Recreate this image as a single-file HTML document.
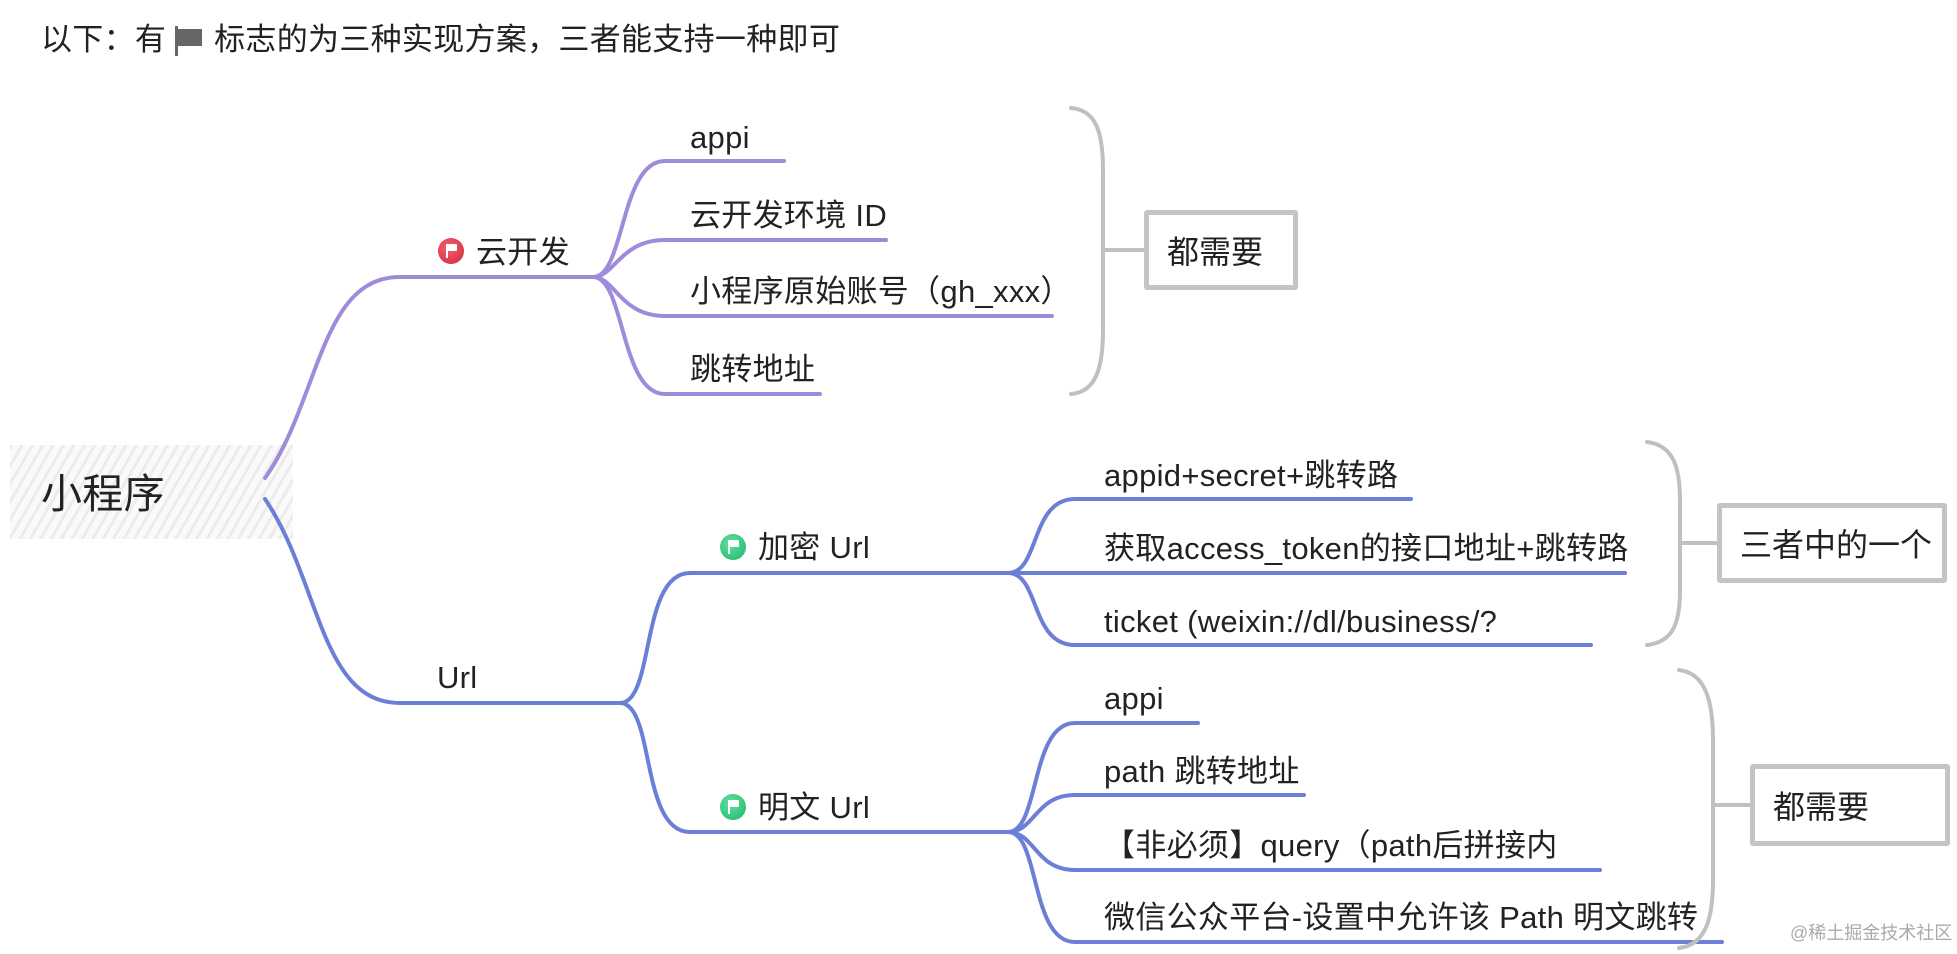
<!DOCTYPE html>
<html><head><meta charset="utf-8"><style>
html,body{margin:0;padding:0;background:#fff;}
body{width:1957px;height:954px;position:relative;overflow:hidden;font-family:"Liberation Sans","Noto Sans CJK SC",sans-serif;color:#222;}
.t{position:absolute;white-space:nowrap;font-size:31px;line-height:32px;letter-spacing:0.3px;}
.hatch{position:absolute;left:10px;top:445px;width:283px;height:94px;background:repeating-linear-gradient(120deg,#ececec 0 3px,#fafafa 3px 9px);}
.box{position:absolute;border:5px solid #c4c4c4;border-radius:3px;background:#fff;box-sizing:border-box;font-size:32px;display:flex;align-items:center;padding-left:18px;white-space:nowrap;}
.icon{position:absolute;width:26px;height:26px;border-radius:50%;}
.icon i{position:absolute;left:8px;top:6px;width:2px;height:14px;background:#fff;}
.icon b{position:absolute;left:10px;top:6px;width:9px;height:7px;background:#fff;border-radius:1px;}
</style></head><body>
<div class="t" style="left:41px;top:24px;font-size:31px;">以下：有 <span style="display:inline-block;width:3px;height:30px;background:#666;vertical-align:-6px"></span><span style="display:inline-block;width:24px;height:17px;background:#666;vertical-align:4px;margin-right:12px"></span>标志的为三种实现方案，三者能支持一种即可</div>

<div class="hatch"></div>
<div class="t" style="left:41px;top:474px;font-size:41px;line-height:40px;">小程序</div>

<svg width="1957" height="954" style="position:absolute;left:0;top:0" fill="none" stroke-linecap="round">
<g stroke="#9f8bda" stroke-width="4">
<path d="M265 478 C320 400 320 277 400 277 L593 277"/>
<path d="M593 277 C625 277 620 161 665 161 L784 161"/>
<path d="M593 277 C615 277 620 240 665 240 L886 240"/>
<path d="M593 277 C615 277 620 316 665 316 L1052 316"/>
<path d="M593 277 C625 277 620 394 665 394 L820 394"/>
</g>
<g stroke="#6b7fd6" stroke-width="4">
<path d="M265 499 C320 580 320 703 400 703 L620 703" />
<path d="M620 703 C655 703 640 573 690 573 L1008 573"/>
<path d="M620 703 C655 703 640 832 690 832 L1008 832"/>
<path d="M1008 573 C1040 573 1030 499 1075 499 L1411 499"/>
<path d="M1008 573 L1625 573"/>
<path d="M1008 573 C1040 573 1030 645 1075 645 L1591 645"/>
<path d="M1008 832 C1040 832 1030 723 1075 723 L1198 723"/>
<path d="M1008 832 C1035 832 1035 795 1075 795 L1304 795"/>
<path d="M1008 832 C1035 832 1035 870 1075 870 L1600 870"/>
<path d="M1008 832 C1040 832 1030 942 1075 942 L1722 942"/>
</g>
<g stroke="#c0c0c0" stroke-width="4">
<path d="M1071 108 C1095 110 1103 130 1103 170 L1103 330 C1103 370 1095 392 1071 394"/>
<path d="M1103 250 L1144 250"/>
<path d="M1647 442 C1672 445 1680 465 1680 500 L1680 590 C1680 625 1672 642 1647 645"/>
<path d="M1680 543 L1717 543"/>
<path d="M1679 670 C1705 673 1713 700 1713 740 L1713 880 C1713 920 1705 945 1679 948"/>
<path d="M1713 805 L1750 805"/>
</g>
</svg>

<div class="icon" style="left:438px;top:238px;background:radial-gradient(circle at 40% 35%,#f06070,#d22a3a);"><i></i><b></b></div>
<div class="t" style="left:476px;top:237px;">云开发</div>
<div class="t" style="left:437px;top:662px;">Url</div>
<div class="icon" style="left:720px;top:534px;background:radial-gradient(circle at 40% 35%,#5ee0a0,#1fb56a);"><i></i><b></b></div>
<div class="t" style="left:758px;top:532px;">加密 Url</div>
<div class="icon" style="left:720px;top:794px;background:radial-gradient(circle at 40% 35%,#5ee0a0,#1fb56a);"><i></i><b></b></div>
<div class="t" style="left:758px;top:792px;">明文 Url</div>

<div class="t" style="left:690px;top:122px;">appi</div>
<div class="t" style="left:690px;top:200px;">云开发环境 ID</div>
<div class="t" style="left:690px;top:276px;">小程序原始账号（gh_xxx）</div>
<div class="t" style="left:690px;top:354px;">跳转地址</div>

<div class="t" style="left:1104px;top:460px;">appid+secret+跳转路</div>
<div class="t" style="left:1104px;top:533px;">获取access_token的接口地址+跳转路</div>
<div class="t" style="left:1104px;top:606px;">ticket (weixin://dl/business/?</div>
<div class="t" style="left:1104px;top:683px;">appi</div>
<div class="t" style="left:1104px;top:756px;">path 跳转地址</div>
<div class="t" style="left:1104px;top:830px;">【非必须】query（path后拼接内</div>
<div class="t" style="left:1104px;top:902px;">微信公众平台-设置中允许该 Path 明文跳转</div>

<div class="box" style="left:1144px;top:210px;width:154px;height:80px;">都需要</div>
<div class="box" style="left:1717px;top:503px;width:230px;height:80px;">三者中的一个</div>
<div class="box" style="left:1750px;top:764px;width:200px;height:82px;">都需要</div>

<div class="t" style="left:1790px;top:922px;font-size:18px;line-height:22px;color:#aaa;letter-spacing:0;">@稀土掘金技术社区</div>
</body></html>
